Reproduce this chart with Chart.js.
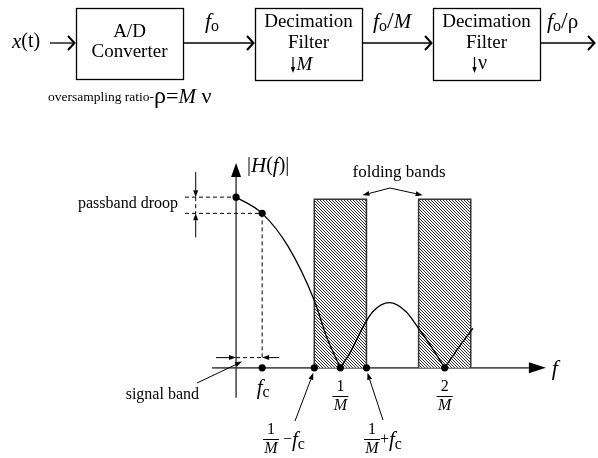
<!DOCTYPE html>
<html>
<head>
<meta charset="utf-8">
<title>Decimation filter response</title>
<script src="https://cdn.jsdelivr.net/npm/chart.js@4.4.1/dist/chart.umd.min.js"></script>
<style>
  html, body { margin: 0; padding: 0; background: #fff; }
  canvas { display: block; }
</style>
</head>
<body>
<canvas id="responseChart" width="598" height="458"></canvas>
<script>
// |H(f)|, f in units of 1/M, height relative to H(0)
const mainLobeX = [0, 0.25, 0.5, 0.75, 0.875, 1.0];
const mainLobeY = [1.0, 0.905, 0.71, 0.395, 0.17, 0];
const sideLobeX = [1.0, 1.09, 1.22, 1.31, 1.47, 1.63, 1.76, 1.86, 2.0];
const sideLobeY = [0, 0.086, 0.242, 0.329, 0.382, 0.329, 0.222, 0.135, 0];
const tailX = [2.0, 2.14, 2.27];
const tailY = [0, 0.125, 0.232];

// marked points: H(0), H(fc), then fc, 1/M-fc, 1/M, 1/M+fc, 2/M on the axis
const dotX = [0, 0.25, 0.25, 0.75, 1, 1.25, 2];
const dotY = [1.0, 0.905, 0, 0, 0, 0, 0];

// folding bands k/M +/- fc
const fc = 0.25;
const bandCenters = [1, 2];
const bandTop = 0.988;

const SERIF = '"Liberation Serif", "Times New Roman", serif';
const pts = (xs, ys) => xs.map((x, i) => ({ x, y: ys[i] }));

// diagonal hatch for the folding bands
const hatch = (() => {
    const s = 3;
    const tile = document.createElement('canvas');
    tile.width = tile.height = s;
    const g = tile.getContext('2d');
    g.fillStyle = '#fff';
    g.fillRect(0, 0, s, s);
    g.strokeStyle = '#222';
    g.lineWidth = 0.95;
    [-s, 0, s].forEach(o => {
        g.beginPath();
        g.moveTo(o - 1, -1);
        g.lineTo(o + s + 1, s + 1);
        g.stroke();
    });
    return g.createPattern(tile, 'repeat');
})();

// ---- small drawing helpers ----
function runs(ctx, parts, x, y, align) {
    // parts: [text, size, italic, dy]
    const f = p => (p[2] ? 'italic ' : '') + p[1] + 'px ' + SERIF;
    let w = 0;
    parts.forEach(p => { ctx.font = f(p); w += ctx.measureText(p[0]).width; });
    let cx = align === 'center' ? x - w / 2 : align === 'right' ? x - w : x;
    ctx.textBaseline = 'middle';
    ctx.textAlign = 'left';
    parts.forEach(p => {
        ctx.font = f(p);
        ctx.fillText(p[0], cx, y + (p[3] || 0));
        cx += ctx.measureText(p[0]).width;
    });
    return w;
}

function arrow(ctx, x1, y1, x2, y2, len, hw) {
    const a = Math.atan2(y2 - y1, x2 - x1);
    const bx = x2 - len * Math.cos(a), by = y2 - len * Math.sin(a);
    ctx.beginPath();
    ctx.moveTo(x1, y1);
    ctx.lineTo(bx, by);
    ctx.stroke();
    ctx.beginPath();
    ctx.moveTo(x2, y2);
    ctx.lineTo(bx + hw * Math.sin(a), by - hw * Math.cos(a));
    ctx.lineTo(bx - hw * Math.sin(a), by + hw * Math.cos(a));
    ctx.closePath();
    ctx.fill();
}

function chevron(ctx, x1, x2, y) {
    ctx.lineWidth = 1.3;
    ctx.beginPath();
    ctx.moveTo(x1, y);
    ctx.lineTo(x2, y);
    ctx.stroke();
    ctx.lineWidth = 2;
    ctx.beginPath();
    ctx.moveTo(x2 - 7, y - 7);
    ctx.lineTo(x2 - 0.5, y);
    ctx.lineTo(x2 - 7, y + 7);
    ctx.stroke();
}

function frac(ctx, cx, cy, num, size) {
    runs(ctx, [[num, size]], cx, cy - 9, 'center');
    ctx.lineWidth = 1;
    ctx.beginPath();
    ctx.moveTo(cx - 8, cy + 0.5);
    ctx.lineTo(cx + 8, cy + 0.5);
    ctx.stroke();
    runs(ctx, [['M', size, true]], cx, cy + 10, 'center');
}

function dashed(ctx, x1, y1, x2, y2) {
    ctx.save();
    ctx.setLineDash([4, 3]);
    ctx.lineWidth = 1;
    ctx.beginPath();
    ctx.moveTo(x1, y1);
    ctx.lineTo(x2, y2);
    ctx.stroke();
    ctx.restore();
}

// ---- block diagram above the plot ----
function drawBlocks(ctx) {
    ctx.strokeStyle = '#000';
    ctx.fillStyle = '#000';
    ctx.lineWidth = 1.3;
    [[76, 8, 107, 71], [255, 8, 107, 72], [433, 8, 107, 72]]
        .forEach(b => ctx.strokeRect(b[0] + 0.5, b[1] + 0.5, b[2], b[3]));

    chevron(ctx, 50, 75, 43);
    chevron(ctx, 184, 254, 43);
    chevron(ctx, 363, 432, 43);
    chevron(ctx, 541, 595, 43);

    runs(ctx, [['x', 21, true], ['(t)', 20]], 12, 42, 'left');
    runs(ctx, [['A/D', 19]], 129.5, 32, 'center');
    runs(ctx, [['Converter', 19]], 129.5, 52, 'center');
    runs(ctx, [['f', 22, true], ['o', 16, false, 5]], 205, 22, 'left');

    runs(ctx, [['Decimation', 19]], 308.5, 22, 'center');
    runs(ctx, [['Filter', 19]], 308.5, 43, 'center');
    ctx.lineWidth = 1.2;
    arrow(ctx, 293, 57, 293, 73, 6, 2.2);
    runs(ctx, [['M', 19, true]], 296.5, 65, 'left');
    runs(ctx, [['f', 22, true], ['o', 16, false, 5], ['/', 24], ['M', 21, true]], 373, 22, 'left');

    runs(ctx, [['Decimation', 19]], 486.5, 22, 'center');
    runs(ctx, [['Filter', 19]], 486.5, 43, 'center');
    ctx.lineWidth = 1.2;
    arrow(ctx, 474.5, 57, 474.5, 73, 6, 2.2);
    runs(ctx, [['\u03BD', 20]], 478, 64, 'left');
    runs(ctx, [['f', 22, true], ['o', 16, false, 5], ['/', 24], ['\u03C1', 21]], 547, 22, 'left');

    runs(ctx, [['oversampling ratio-', 13.5], ['\u03C1', 24], ['=', 22], ['M', 21, true], [' \u03BD', 22]], 48, 97, 'left');
}

const figure = {
    id: 'figure',
    beforeDatasetsDraw(chart) {
        const { ctx, scales: { x, y } } = chart;
        const X = v => x.getPixelForValue(v), Y = v => y.getPixelForValue(v);
        ctx.save();
        ctx.fillStyle = '#000';
        ctx.strokeStyle = '#555';
        ctx.lineWidth = 1.6;
        arrow(ctx, X(-0.23), Y(0), X(2.97), Y(0), 17, 5.5);
        ctx.strokeStyle = '#333';
        ctx.lineWidth = 1.4;
        arrow(ctx, X(0), Y(-0.175), X(0), Y(1.2), 14, 5);
        ctx.restore();
    },
    afterDatasetsDraw(chart) {
        const { ctx, scales: { x, y } } = chart;
        const X = v => x.getPixelForValue(v), Y = v => y.getPixelForValue(v);
        const h0 = dotY[0], hc = dotY[1];
        ctx.save();
        ctx.fillStyle = '#000';
        ctx.strokeStyle = '#000';

        // passband droop
        const droopX = X(-0.387);
        dashed(ctx, X(-0.49), Y(h0), X(0), Y(h0));
        dashed(ctx, X(-0.49), Y(hc), X(fc), Y(hc));
        dashed(ctx, droopX, Y(h0), droopX, Y(hc));
        ctx.lineWidth = 1;
        arrow(ctx, droopX, Y(h0) - 25, droopX, Y(h0), 7, 2.5);
        arrow(ctx, droopX, Y(hc) + 24, droopX, Y(hc), 7, 2.5);
        runs(ctx, [['passband droop', 16]], 178, 204, 'right');

        // signal band
        const sbY = Y(0.06);
        dashed(ctx, X(fc), Y(hc), X(fc), sbY);
        dashed(ctx, X(0), sbY, X(fc), sbY);
        ctx.lineWidth = 1;
        arrow(ctx, X(0) - 20, sbY, X(0), sbY, 7, 2.5);
        arrow(ctx, X(fc) + 17, sbY, X(fc), sbY, 7, 2.5);
        arrow(ctx, 197, 383, X(0) + 6, sbY + 4, 7, 2.5);
        runs(ctx, [['signal band', 16]], 199, 395, 'right');

        // axis labels
        runs(ctx, [['|', 20], ['H', 21, true], ['(', 20], ['f', 21, true], [')|', 20]], 247, 166, 'left');
        runs(ctx, [['f', 22, true]], X(2.97) + 6, Y(0) + 1, 'left');
        runs(ctx, [['f', 21, true], ['c', 16, false, 5]], X(fc) + 1, 388, 'center');
        bandCenters.forEach(c => frac(ctx, X(c), 396, String(c), 16));

        // 1/M - fc and 1/M + fc with leaders
        ctx.lineWidth = 1;
        arrow(ctx, 295, 421, X(1 - fc) - 1, Y(0) + 5, 7, 2.5);
        arrow(ctx, 383, 420, X(1 + fc) + 1, Y(0) + 5, 7, 2.5);
        frac(ctx, 271, 439, '1', 16);
        runs(ctx, [[' \u2212', 16], ['f', 21, true], ['c', 16, false, 5]], 279, 440, 'left');
        frac(ctx, 372, 439, '1', 16);
        runs(ctx, [['+', 16], ['f', 21, true], ['c', 16, false, 5]], 380, 440, 'left');

        // folding bands
        runs(ctx, [['folding bands', 17]], 399, 173, 'center');
        ctx.lineWidth = 1;
        arrow(ctx, 390, 188, X(bandCenters[0] + fc) - 4, Y(bandTop) - 4, 7, 2.5);
        arrow(ctx, 390, 188, X(bandCenters[1] - fc) + 4, Y(bandTop) - 4, 7, 2.5);

        drawBlocks(ctx);
        ctx.restore();
    }
};

const lobe = (xs, ys) => ({
    type: 'line',
    data: pts(xs, ys),
    borderColor: '#000',
    borderWidth: 1.3,
    pointRadius: 0,
    cubicInterpolationMode: 'monotone',
    fill: false,
    clip: false,
    order: 1
});

const bands = bandCenters.map(c => ({
    type: 'line',
    data: [{ x: c - fc, y: 0 }, { x: c - fc, y: bandTop }, { x: c + fc, y: bandTop }, { x: c + fc, y: 0 }],
    borderColor: '#333',
    borderWidth: 1.5,
    backgroundColor: hatch,
    fill: 'origin',
    pointRadius: 0,
    tension: 0,
    clip: false,
    order: 3
}));

new Chart(document.getElementById('responseChart'), {
    type: 'scatter',
    data: {
        datasets: [
            {
                type: 'scatter',
                data: pts(dotX, dotY),
                pointRadius: 3.6,
                pointBackgroundColor: '#000',
                pointBorderWidth: 0,
                clip: false,
                order: 0
            },
            lobe(mainLobeX, mainLobeY),
            lobe(sideLobeX, sideLobeY),
            lobe(tailX, tailY),
            ...bands
        ]
    },
    options: {
        responsive: false,
        animation: false,
        events: [],
        layout: { padding: { left: 210, right: 49, top: 163, bottom: 56 } },
        plugins: { legend: { display: false }, tooltip: { enabled: false } },
        scales: {
            x: { type: 'linear', min: -0.25, max: 3.0, display: false },
            y: { type: 'linear', min: -0.2, max: 1.2, display: false }
        }
    },
    plugins: [figure]
});
</script>
</body>
</html>
